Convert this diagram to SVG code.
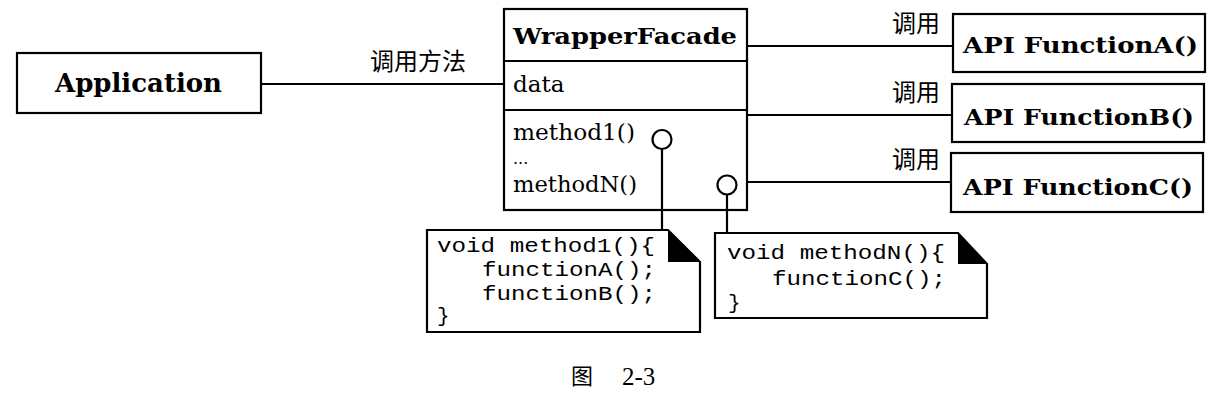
<svg xmlns="http://www.w3.org/2000/svg" width="1222" height="400" viewBox="0 0 1222 400">
<style>
.box{fill:#fff;stroke:#000;stroke-width:2.2}
.ln{fill:none;stroke:#000;stroke-width:2.2}
.bold{font-family:"DejaVu Serif","Liberation Serif",serif;font-weight:700;fill:#000}
.reg{font-family:"DejaVu Serif","Liberation Serif",serif;font-size:23px;fill:#000}
.cn{font-family:"Noto Sans CJK SC","Noto Sans",sans-serif;fill:#000}
.mono{font-family:"Liberation Mono","DejaVu Sans Mono",monospace;font-size:21px;fill:#000}
</style>
<rect width="1222" height="400" fill="#fff"/>
<g id="application">
<rect class="box" x="17" y="53" width="244" height="60"/>
<text class="bold" x="55" y="92" font-size="26" textLength="167" lengthAdjust="spacingAndGlyphs">Application</text>
</g>
<g id="wrapperfacade">
<rect class="box" x="504" y="9" width="243" height="201"/>
<line class="ln" x1="504" y1="61" x2="747" y2="61"/>
<line class="ln" x1="504" y1="110" x2="747" y2="110"/>
<text class="bold" x="513" y="44" font-size="23" textLength="224" lengthAdjust="spacingAndGlyphs">WrapperFacade</text>
<text class="reg" x="513" y="92">data</text>
<text class="reg" x="513" y="140" textLength="122" lengthAdjust="spacingAndGlyphs">method1()</text>
<text class="reg" x="513" y="164" font-size="16" style="font-size:16px">...</text>
<text class="reg" x="513" y="192" textLength="124" lengthAdjust="spacingAndGlyphs">methodN()</text>
</g>
<g id="apiA">
<rect class="box" x="953" y="14" width="252" height="58"/>
<text class="bold" x="963" y="53" font-size="22" textLength="235" lengthAdjust="spacingAndGlyphs">API FunctionA()</text>
</g>
<g id="apiB">
<rect class="box" x="952" y="84" width="252" height="58"/>
<text class="bold" x="964" y="125" font-size="22" textLength="230" lengthAdjust="spacingAndGlyphs">API FunctionB()</text>
</g>
<g id="apiC">
<rect class="box" x="951" y="153" width="252" height="59"/>
<text class="bold" x="963" y="195" font-size="22" textLength="230" lengthAdjust="spacingAndGlyphs">API FunctionC()</text>
</g>
<g id="note1">
<path class="box" d="M427,230 L668,230 L700,262 L700,332 L427,332 Z"/>
<path d="M668,230 L700,262 L668,262 Z" fill="#000"/>
<text class="mono" x="437" y="252" textLength="218" lengthAdjust="spacingAndGlyphs">void method1(){</text>
<text class="mono" x="482" y="276" textLength="174" lengthAdjust="spacingAndGlyphs">functionA();</text>
<text class="mono" x="482" y="300" textLength="174" lengthAdjust="spacingAndGlyphs">functionB();</text>
<text class="mono" x="437" y="322">}</text>
</g>
<g id="note2">
<path class="box" d="M715,233 L958,233 L987,264 L987,318 L715,318 Z"/>
<path d="M958,233 L987,264 L958,264 Z" fill="#000"/>
<text class="mono" x="727" y="259" textLength="218" lengthAdjust="spacingAndGlyphs">void methodN(){</text>
<text class="mono" x="772" y="285" textLength="174" lengthAdjust="spacingAndGlyphs">functionC();</text>
<text class="mono" x="728" y="309">}</text>
</g>
<g id="connectors">
<line class="ln" x1="261" y1="84" x2="504" y2="84"/>
<line class="ln" x1="747" y1="46" x2="953" y2="46"/>
<line class="ln" x1="747" y1="115" x2="952" y2="115"/>
<line class="ln" x1="747" y1="182" x2="951" y2="182"/>
<line class="ln" x1="662" y1="149" x2="662" y2="230"/>
<line class="ln" x1="727" y1="194.5" x2="727" y2="233"/>
<circle class="box" cx="662" cy="139.5" r="9.5"/>
<circle class="box" cx="727" cy="185" r="9.5"/>
<text class="cn" x="370" y="70" font-size="24">调用方法</text>
<text class="cn" x="892" y="32" font-size="24">调用</text>
<text class="cn" x="892" y="101" font-size="24">调用</text>
<text class="cn" x="892" y="168" font-size="24">调用</text>
</g>
<g id="caption">
<text class="cn" x="571" y="384" font-size="22">图</text>
<text x="622" y="385" font-family="Liberation Serif, serif" font-size="25" fill="#000">2-3</text>
</g>
</svg>
